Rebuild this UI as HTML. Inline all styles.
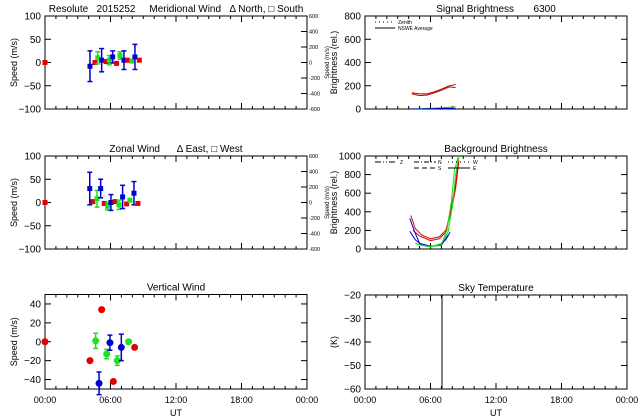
<!DOCTYPE html>
<html><head><meta charset="utf-8">
<style>
html,body{margin:0;padding:0;background:#fff;}
svg{display:block;font-family:"Liberation Sans",sans-serif;}
text{fill:#000;white-space:pre;}
</style></head>
<body>
<svg id="c" width="640" height="420" viewBox="0 0 640 420" xml:space="preserve"></svg>
<script>
// ---- data ----
const merHours=[0,4.12,4.58,4.83,5.19,5.59,5.89,6.2,6.56,6.87,7.23,7.57,7.94,8.24,8.64];
const merVals=[0,-8,0,10,5,2,5,12,-2,15,5,5,3,12,5];
const merErr=[0,33,0,13,25,0,10,13,0,8,20,0,0,27,0];
const merColor=['r','b','r','g','b','r','g','b','r','g','b','r','g','b','r'];
const zonHours=[0,4.1,4.38,4.76,5.1,5.43,5.73,6.04,6.41,6.77,7.11,7.48,7.78,8.15,8.51];
const zonVals=[0,30,2,8,30,-2,-8,0,2,-5,12,-3,5,20,-2];
const zonErr=[0,35,0,18,20,0,8,17,0,10,25,0,3,25,0];
const zonColor=['r','b','r','g','b','r','g','b','r','g','b','r','g','b','r'];
const verHours=[0,4.12,4.64,4.95,5.19,5.65,5.95,6.26,6.62,6.99,7.66,8.21];
const verVals=[0,-20,1,-44,34,-13,-1,-42,-20,-6,0,-6];
const verErr=[0,0,8,12,0,5,8,0,5,14,2,0];
const verColor=['r','r','g','b','r','g','b','r','g','b','g','r'];
const sigHours=[4.3,5,5.7,6.4,7.1,7.7,8.3];
const sigRedA=[140,130,130,150,175,200,210];
const sigRedB=[130,115,120,140,165,190,185];
const sigGreen=[2,3,5,8,10,15,20];
const sigBlue=[0,0,2,3,5,5,5];
const bgRed1H=[4.2,4.6,5.2,6.0,6.8,7.4,7.9,8.3,8.6], bgRed1=[360,220,150,110,130,200,400,650,950];
const bgRed2H=[4.4,5,6,6.8,7.4,7.9,8.3,8.6], bgRed2=[200,140,90,110,180,450,700,1000];
const bgBlue1H=[4.1,4.5,5,6,6.8,7.4,7.8], bgBlue1=[330,200,60,30,40,100,180];
const bgBlue2H=[4.1,4.6,5.2,6,7,7.6], bgBlue2=[190,100,40,30,40,150];
const bgGreen1H=[4.6,5.2,6,7,7.6,8.0,8.3,8.6], bgGreen1=[60,40,25,60,180,450,800,1000];
const bgGreen2H=[4.8,6,7,7.5,7.9,8.2,8.5], bgGreen2=[50,20,50,200,500,850,980];
const skyHours=[7.05,7.05];
const skyVals=[-20,-60];
const xTickLabels=['00:00','06:00','12:00','18:00','00:00'];
const COL={r:'#e00000',g:'#20e020',b:'#0000d0'};

const svg=document.getElementById('c');
const NS='http://www.w3.org/2000/svg';
function el(tag,attrs,parent){const e=document.createElementNS(NS,tag);for(const k in attrs)e.setAttribute(k,attrs[k]);(parent||svg).appendChild(e);return e;}
function txt(s,x,y,size,anchor,parent,rot){const t=el('text',{x:x,y:y,'font-size':size,'text-anchor':anchor||'middle'},parent);t.setAttributeNS('http://www.w3.org/XML/1998/namespace','xml:space','preserve');if(rot)t.setAttribute('transform','rotate(-90 '+x+' '+y+')');t.textContent=s;return t;}

function panel(name,x0,x1,y0,y1,ymin,ymax,yticks,title,ylab,showX,right){
  const g=el('g',{});
  
  
  el('rect',{x:x0,y:y0,width:x1-x0,height:y1-y0,fill:'none',stroke:'#000','stroke-width':1},g);
  const X=h=>x0+(h/24)*(x1-x0);
  const Y=v=>y1-(v-ymin)/(ymax-ymin)*(y1-y0);
  for(let h=0;h<=24;h++){const L=h%6==0?6:3;el('line',{x1:X(h),x2:X(h),y1:y1,y2:y1-L,stroke:'#000'},g);el('line',{x1:X(h),x2:X(h),y1:y0,y2:y0+L,stroke:'#000'},g);}
  yticks.forEach(v=>{el('line',{x1:x0,x2:x0+6,y1:Y(v),y2:Y(v),stroke:'#000'},g);if(!right)el('line',{x1:x1,x2:x1-6,y1:Y(v),y2:Y(v),stroke:'#000'},g);});
  yticks.forEach(v=>{const t=txt(String(v).replace('-','\u2212'),x0-4,Y(v)+3.5,10,'end',g);});
  const tt=txt(title,(x0+x1)/2,y0-4,10,'middle',g);
  const yl=txt(ylab,x0-28,(y0+y1)/2,9,'middle',g,true);
  if(showX){xTickLabels.forEach((s,i)=>{const t=txt(s,X(i*6),y1+14,9,'middle',g);});
    const xl=txt('UT',(x0+x1)/2,y1+27,9,'middle',g);}
  if(right){const rv=[600,400,200,0,-200,-400,-600];
    rv.forEach(v=>{const yy=y1-(v+600)/1200*(y1-y0);el('line',{x1:x1,x2:x1-6,y1:yy,y2:yy,stroke:'#000'},g);const t=txt(String(v),x1+2,yy+2,5.5,'start',g);});
    const r=txt('Speed (m/s)',x1+22,(y0+y1)/2,6,'middle',g,true);}
  return {g,X,Y};
}
function windPoints(p,hours,vals,errs,cols,name){
  hours.forEach((h,i)=>{
    const x=p.X(h),y=p.Y(vals[i]),c=COL[cols[i]];
    if(errs[i]>0){
      const e=el('g',{},p.g);
      
      
      const ya=p.Y(vals[i]+errs[i]),yb=p.Y(vals[i]-errs[i]);
      el('line',{x1:x,x2:x,y1:ya,y2:yb,stroke:c,'stroke-width':1.5},e);
      el('line',{x1:x-2.5,x2:x+2.5,y1:ya,y2:ya,stroke:c,'stroke-width':1.5},e);
      el('line',{x1:x-2.5,x2:x+2.5,y1:yb,y2:yb,stroke:c,'stroke-width':1.5},e);
    }
    const m=el('rect',{x:x-2.5,y:y-2.5,width:5,height:5,fill:c},p.g);
    
    
  });
}
function line(p,hs,vs,color,name,dash){
  const d=hs.map((h,i)=>(i?'L':'M')+p.X(h).toFixed(1)+' '+p.Y(vs[i]).toFixed(1)).join(' ');
  const a={d:d,fill:'none',stroke:color,'stroke-width':1};if(dash)a['stroke-dasharray']=dash;
  const e=el('path',a,p.g);
  
  
}

const p1=panel('meridional-wind-panel',45,307,16,109,-100,100,[100,50,0,-50,-100],'Resolute   2015252     Meridional Wind   \u0394 North, \u25A1 South','Speed (m/s)',false,true);
windPoints(p1,merHours,merVals,merErr,merColor,'meridional');
const p2=panel('zonal-wind-panel',45,307,156,249,-100,100,[100,50,0,-50,-100],'Zonal Wind      \u0394 East, \u25A1 West','Speed (m/s)',false,true);
windPoints(p2,zonHours,zonVals,zonErr,zonColor,'zonal');
const p3=panel('vertical-wind-panel',45,307,294.5,389,-50,50,[40,20,0,-20,-40],'Vertical Wind','Speed (m/s)',true,false);
verHours.forEach((h,i)=>{
  const x=p3.X(h),y=p3.Y(verVals[i]),c=COL[verColor[i]];
  if(verErr[i]>0){
    const ya=p3.Y(verVals[i]+verErr[i]),yb=p3.Y(verVals[i]-verErr[i]);
    el('line',{x1:x,x2:x,y1:ya,y2:yb,stroke:c,'stroke-width':1.5},p3.g);
    el('line',{x1:x-2.5,x2:x+2.5,y1:ya,y2:ya,stroke:c,'stroke-width':1.5},p3.g);
    el('line',{x1:x-2.5,x2:x+2.5,y1:yb,y2:yb,stroke:c,'stroke-width':1.5},p3.g);
  }
  const m=el('circle',{cx:x,cy:y,r:3.5,fill:c},p3.g);
  
  
});

const p4=panel('signal-brightness-panel',365,627,16,109,0,800,[800,600,400,200,0],'Signal Brightness       6300','Brightness (rel.)',false,false);
line(p4,sigHours,sigRedA,'#c00000','signal-red-line-a');
line(p4,sigHours,sigRedB,'#c00000','signal-red-line-b');
line(p4,sigHours,sigGreen,'#20c020','signal-green-line');
line(p4,sigHours,sigBlue,'#0000c0','signal-blue-line');
el('line',{x1:375,x2:395,y1:22,y2:22,stroke:'#000','stroke-dasharray':'1,3'},p4.g);
el('line',{x1:375,x2:395,y1:28,y2:28,stroke:'#000'},p4.g);
txt('Zenith',398,24,5,'start',p4.g);
txt('NSWE Average',398,30,5,'start',p4.g);

const p5=panel('background-brightness-panel',365,627,156,249,0,1000,[1000,800,600,400,200,0],'Background Brightness','Brightness (rel.)',false,false);
line(p5,bgRed1H,bgRed1,'#e00000','bg-red-line-1');
line(p5,bgRed2H,bgRed2,'#e00000','bg-red-line-2');
line(p5,bgBlue1H,bgBlue1,'#0000d0','bg-blue-line-1');
line(p5,bgBlue2H,bgBlue2,'#0000d0','bg-blue-line-2');
line(p5,bgGreen1H,bgGreen1,'#20e020','bg-green-line-1');
line(p5,bgGreen2H,bgGreen2,'#20e020','bg-green-line-2');
el('line',{x1:375,x2:397,y1:162,y2:162,stroke:'#000','stroke-dasharray':'6,2,1,2,1,2'},p5.g);
txt('Z',400,164,5,'start',p5.g);
el('line',{x1:414,x2:436,y1:162,y2:162,stroke:'#000','stroke-dasharray':'5,2,1,2'},p5.g);
txt('N',438,164,5,'start',p5.g);
el('line',{x1:414,x2:436,y1:168,y2:168,stroke:'#000','stroke-dasharray':'5,3'},p5.g);
txt('S',438,170,5,'start',p5.g);
el('line',{x1:448,x2:470,y1:162,y2:162,stroke:'#000','stroke-dasharray':'1,3'},p5.g);
txt('W',473,164,5,'start',p5.g);
el('line',{x1:448,x2:470,y1:168,y2:168,stroke:'#000'},p5.g);
txt('E',473,170,5,'start',p5.g);

const p6=panel('sky-temperature-panel',365,627,295,389,-60,-20,[-20,-30,-40,-50,-60],'Sky Temperature','(K)',true,false);
line(p6,skyHours,skyVals,'#000','sky-temperature-line');
</script>
</body></html>
